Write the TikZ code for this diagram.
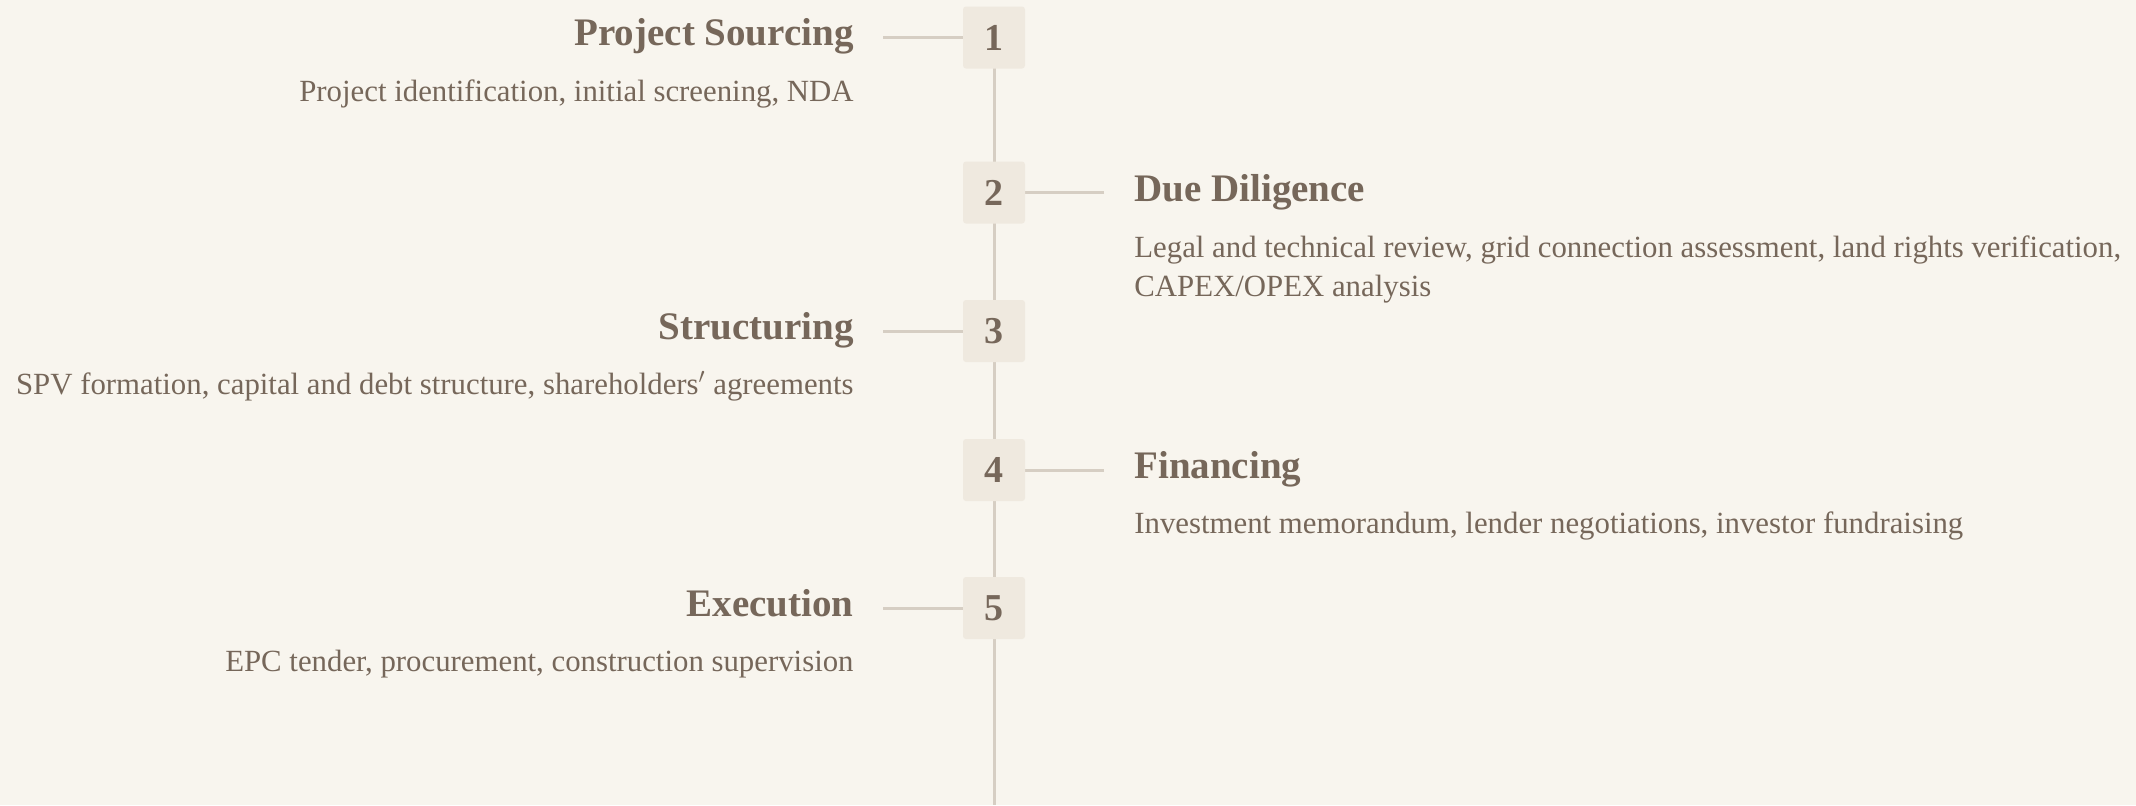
\documentclass[tikz,border=0pt]{standalone}
\usepackage{fontspec}
\setmainfont{Liberation Serif}
\usetikzlibrary{backgrounds}
\definecolor{paper}{HTML}{F8F5EE}
\definecolor{boxfill}{HTML}{EFE9DF}
\definecolor{rulecol}{HTML}{D6CEC3}
\definecolor{ink}{HTML}{76675A}
\begin{document}
\begin{tikzpicture}[x=0.5pt,y=-0.5pt,
  stepbox/.style={fill=boxfill, rounded corners=1.5pt, minimum width=31pt,
    minimum height=31pt, inner sep=0pt, text=ink,
    font=\fontsize{19}{22}\selectfont\bfseries},
  steptitle/.style={inner sep=0pt, text=ink,
    font=\fontsize{19.5}{23}\selectfont\bfseries},
  stepdesc/.style={inner sep=0pt, text=ink, align=left,
    font=\fontsize{15.4}{19.5}\selectfont},
  link/.style={draw=rulecol, line width=1.5pt}]
\useasboundingbox (0,0) rectangle (2136,805);

% step markers
\node[stepbox] (s1) at (994,37.5) {1};
\node[stepbox] (s2) at (994,192.5) {2};
\node[stepbox] (s3) at (994,331) {3};
\node[stepbox] (s4) at (994,470) {4};
\node[stepbox] (s5) at (994,608) {5};
\coordinate (spineend) at (994,805);

% titles and descriptions
\node[steptitle, anchor=base east] (t1) at (854,45.5) {Project Sourcing};
\node[stepdesc, anchor=base east] (d1) at (854,101) {Project identification, initial screening, NDA};

\node[steptitle, anchor=base west] (t2) at (1134,201.5) {Due Diligence};
% the base anchor of a two-line node sits on its last line
\node[stepdesc, anchor=base west] (d2) at (1134,296.5) {Legal and technical review, grid connection assessment, land rights verification,\\CAPEX/OPEX analysis};

\node[steptitle, anchor=base east] (t3) at (854,339) {Structuring};
\node[stepdesc, anchor=base east] (d3) at (854,394) {SPV formation, capital and debt structure, shareholders$'$ agreements};

\node[steptitle, anchor=base west] (t4) at (1134,478) {Financing};
\node[stepdesc, anchor=base west] (d4) at (1134,533) {Investment memorandum, lender negotiations, investor fundraising};

\node[steptitle, anchor=base east] (t5) at (854,616) {Execution};
\node[stepdesc, anchor=base east] (d5) at (854,671) {EPC tender, procurement, construction supervision};

% connector ends beside the titles
\coordinate (k1) at (883,37.5);
\coordinate (k2) at (1104,192.5);
\coordinate (k3) at (883,331);
\coordinate (k4) at (1104,470);
\coordinate (k5) at (883,608);

\begin{scope}[on background layer]
  \fill[paper] (0,0) rectangle (2136,805);
  \draw[link] (s1.center) -- (spineend);
  \draw[link] (k1) -- (s1.center);
  \draw[link] (k2) -- (s2.center);
  \draw[link] (k3) -- (s3.center);
  \draw[link] (k4) -- (s4.center);
  \draw[link] (k5) -- (s5.center);
\end{scope}
\end{tikzpicture}
\end{document}
